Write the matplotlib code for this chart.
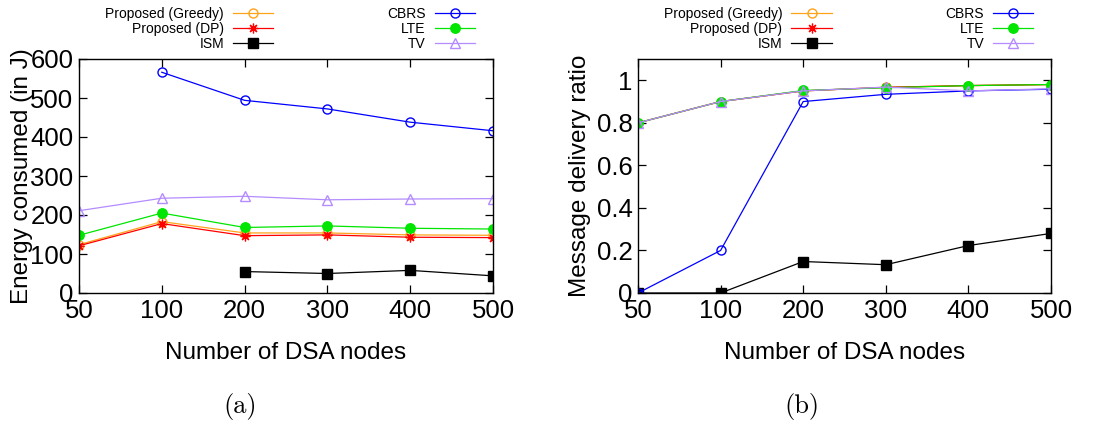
import numpy as np
import matplotlib
matplotlib.use('Agg')
from matplotlib import pyplot as plt
from matplotlib.ticker import FormatStrFormatter

# x categories (equally spaced)
nodes = ['50', '100', '200', '300', '400', '500']

# (a) energy consumed (in J)
energy_greedy = [124, 183, 154, 154, 149, 148]
energy_dp = [121, 178, 147, 149, 143, 142]
energy_ism = [np.nan, np.nan, 55, 50, 58, 44]
energy_cbrs = [np.nan, 566, 494, 472, 438, 416]
energy_lte = [148, 205, 168, 172, 166, 164]
energy_tv = [211, 243, 248, 239, 241, 242]

# (b) message delivery ratio
mdr_greedy = [0.80, 0.90, 0.95, 0.967, 0.975, 0.98]
mdr_dp = [0.80, 0.90, 0.95, 0.967, 0.975, 0.98]
mdr_ism = [0.0, 0.0, 0.148, 0.133, 0.223, 0.28]
mdr_cbrs = [0.0, 0.20, 0.90, 0.934, 0.95, 0.958]
mdr_lte = [0.80, 0.90, 0.952, 0.965, 0.975, 0.98]
mdr_tv = [0.80, 0.90, 0.95, 0.968, 0.95, 0.96]

labels = ['Proposed (Greedy)', 'Proposed (DP)', 'ISM', 'CBRS', 'LTE', 'TV']
styles = [dict(color='#ffa31a', marker='o', mfc='none', ms=6.5),
          dict(color='#ff0000', marker=(8, 2, 0), ms=7, mew=0.9),
          dict(color='black', marker='s', ms=6.8),
          dict(color='#0000ff', marker='o', mfc='none', ms=6.5),
          dict(color='#00e600', marker='o', ms=6.8),
          dict(color='#b48cff', marker='^', mfc='none', ms=7)]

font = ['Liberation Sans', 'DejaVu Sans']

fig = plt.figure(figsize=(10.96, 4.25), dpi=100)
axA = fig.add_axes([79/1096, 132/425, 414/1096, 234/425])
axB = fig.add_axes([638/1096, 132/425, 413/1096, 234/425])

x = np.arange(len(nodes))

def draw(ax, series, ylim, yticks, ylabel, labx):
    for y, lab, st in zip(series, labels, styles):
        ax.plot(x, y, lw=0.9, label=lab, **st)
    ax.set_xlim(x[0], x[-1])
    ax.set_ylim(*ylim)
    ax.set_xticks(x)
    ax.set_xticklabels(nodes)
    ax.set_yticks(yticks)
    ax.yaxis.set_major_formatter(FormatStrFormatter('%g'))
    ax.tick_params(direction='in', top=True, right=True, length=5.5, width=0.9,
                   labelsize=18.5, pad=4)
    for t in ax.get_xticklabels() + ax.get_yticklabels():
        t.set_family(font)
    for s in ax.spines.values():
        s.set_linewidth(1.0)
    ax.set_xlabel('Number of DSA nodes', fontsize=17.5, family=font, labelpad=14)
    ax.set_ylabel(ylabel, fontsize=17.5, family=font)
    ax.yaxis.set_label_coords(labx, 0.5)
    ax.legend(ncol=2, markerfirst=False, frameon=False, loc='lower center',
              bbox_to_anchor=(0.51, 1.035), borderaxespad=0, borderpad=0,
              prop={'family': font, 'size': 10}, handlelength=2.9,
              handletextpad=0.65, columnspacing=8.2, labelspacing=0.07)

draw(axA, [energy_greedy, energy_dp, energy_ism, energy_cbrs, energy_lte, energy_tv],
     (0, 600), np.arange(0, 601, 100), 'Energy consumed (in J)', -0.11)
draw(axB, [mdr_greedy, mdr_dp, mdr_ism, mdr_cbrs, mdr_lte, mdr_tv],
     (0, 1.1), np.arange(0, 1.01, 0.2), 'Message delivery ratio', -0.115)

fig.text(240/1096, 1 - 407/425, '(a)', family='cmr10', fontsize=19, ha='center', va='center')
fig.text(802/1096, 1 - 407/425, '(b)', family='cmr10', fontsize=19, ha='center', va='center')

fig.savefig('out.png', dpi=100)
